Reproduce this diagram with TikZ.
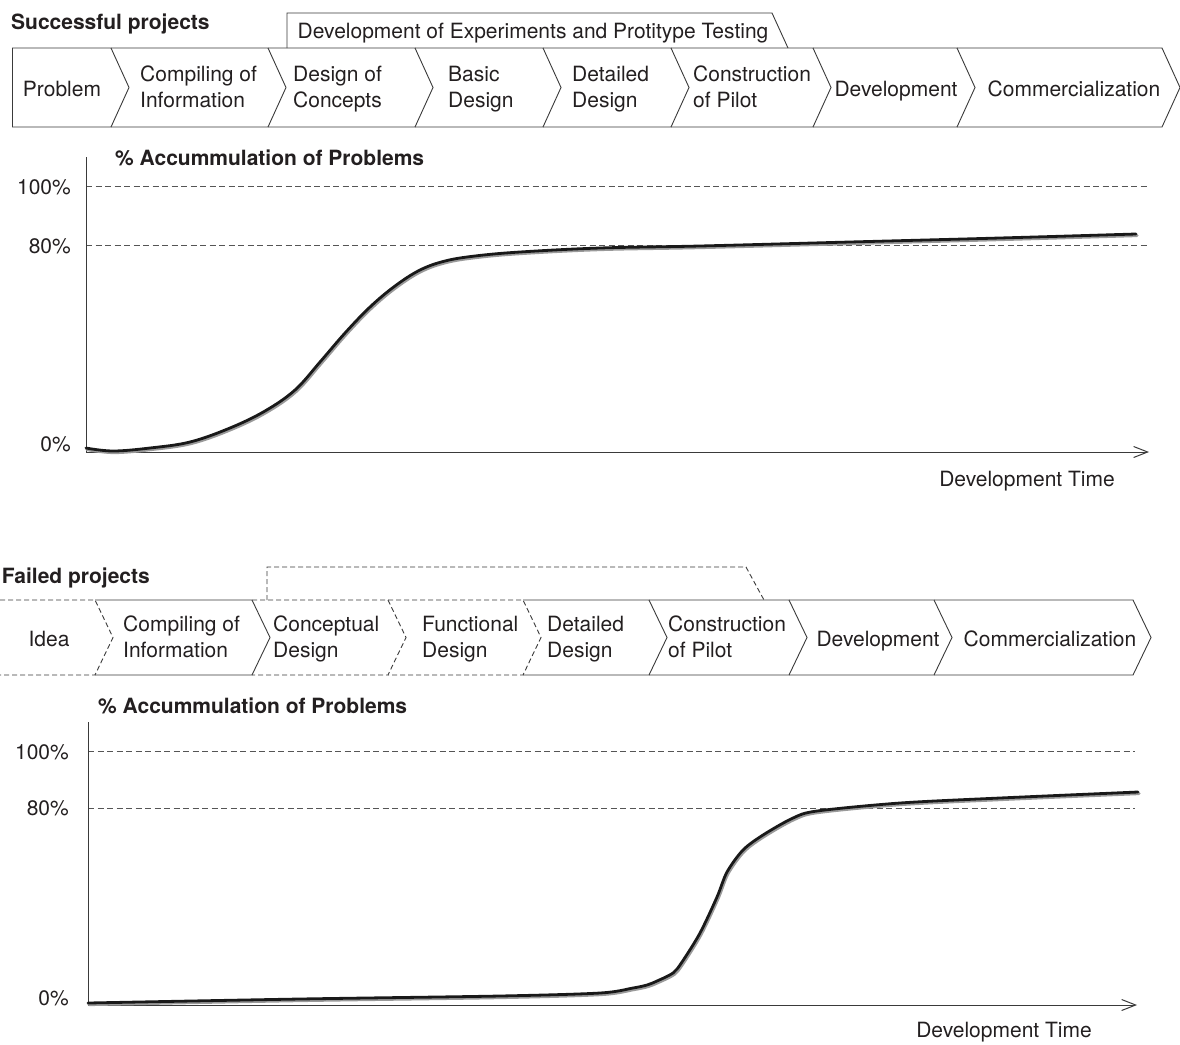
\documentclass[tikz,border=0pt]{standalone}
\usepackage{fontspec}
\setmainfont{TeX Gyre Heros}
\usepackage{tikz}
\usetikzlibrary{arrows.meta}
\definecolor{inkgray}{HTML}{231F20}
\definecolor{edgegray}{HTML}{3A3A3A}
\definecolor{gridgray}{HTML}{555555}
\definecolor{shadegray}{HTML}{9A9A9A}
\tikzset{
  phasetext/.style={inner sep=0pt, text=inkgray, align=left,
    font=\fontsize{21}{26}\selectfont,
    execute at begin node=\strut, execute at end node=\strut},
  headtext/.style={phasetext, font=\fontsize{21}{26}\selectfont\bfseries},
  phaseline/.style={draw=edgegray, line width=0.9pt},
  phasedash/.style={phaseline, dash pattern=on 5pt off 3pt},
  guide/.style={draw=gridgray, line width=0.8pt, dash pattern=on 6pt off 3.5pt},
  axisline/.style={draw=edgegray, line width=1pt},
  curveshade/.style={draw=shadegray, line width=3.2pt, line cap=round},
  curveline/.style={draw=black!90, line width=2.8pt, line cap=round}
}
\begin{document}
\begin{tikzpicture}[x=1pt,y=-1pt]
\useasboundingbox (0,0) rectangle (1180,1044);
\pgfmathsetmacro{\tip}{18}

% successful projects
\node[headtext, anchor=west] (succ) at (11,23.8) {Successful projects};
\draw[phaseline] (287,48) -- (287,13) -- (772,13) -- (788,48);
\node[phasetext] (testtop) at (533,32.8) {Development of Experiments and Protitype Testing};
\draw[phaseline] (12,48) -- (12,127);
\foreach \a/\b in {12/111,111/268,268/415,415/543,543/671,671/813,813/957,957/1162}
  \draw[phaseline] (\a,48) -- (\b,48) -- ({\b+\tip},87.5) -- (\b,127) -- (\a,127);
\node[phasetext] (s1) at (62,91) {Problem};
\node[phasetext, anchor=west] (s2) at (140,91) {Compiling of\\Information};
\node[phasetext, anchor=west] (s3) at (293,91) {Design of\\Concepts};
\node[phasetext, anchor=west] (s4) at (448,91) {Basic\\Design};
\node[phasetext, anchor=west] (s5) at (572,91) {Detailed\\Design};
\node[phasetext, anchor=west] (s6) at (693,91) {Construction\\of Pilot};
\node[phasetext] (s7) at (896,91) {Development};
\node[phasetext] (s8) at (1074,91) {Commercialization};

% chart of successful projects
\node[headtext, anchor=west] (head1) at (115,159.8) {\% Accummulation of Problems};
\coordinate (top1) at (86,157);
\coordinate (org1) at (86,452);
\coordinate (end1) at (1149,452);
\draw[guide] (86,186) -- (1147,186);
\draw[guide] (86,245) -- (1147,245);
\draw[axisline, -{Straight Barb[length=14pt,width=11pt]}] (top1) -- (org1) -- (end1);
\node[phasetext, anchor=east] (hundred1) at (71,188.8) {100\%};
\node[phasetext, anchor=east] (eighty1) at (71,247.8) {80\%};
\node[phasetext, anchor=east] (zero1) at (71,445.8) {0\%};
\node[phasetext] (time1) at (1027,481.5) {Development Time};
\draw[curveshade, shift={(1,1.5)}] plot[smooth, tension=0.6] coordinates {
    (86,448) (113,451) (150,448) (190,442) (230,428) (265,411) (295,390)
    (320,362) (345,333) (370,307) (395,286) (420,270) (445,261) (475,256)
    (520,252) (600,248) (700,246) (850,242) (1000,238) (1136,234)};
\draw[curveline] plot[smooth, tension=0.6] coordinates {
    (86,448) (113,451) (150,448) (190,442) (230,428) (265,411) (295,390)
    (320,362) (345,333) (370,307) (395,286) (420,270) (445,261) (475,256)
    (520,252) (600,248) (700,246) (850,242) (1000,238) (1136,234)};

% failed projects
\node[headtext, anchor=east] (fail) at (150,577.8) {Failed projects};
\draw[phasedash] (267,600) -- (267,567) -- (746,567) -- (764,600);
\foreach \a/\b/\s in {0/95/phasedash,95/252/phaseline,252/388/phasedash,388/523/phasedash,
    523/649/phaseline,649/789/phaseline,789/934/phaseline,934/1133/phaseline}
  \draw[\s] (\a,600) -- (\b,600) -- ({\b+\tip},637.5) -- (\b,675) -- (\a,675);
\node[phasetext] (f1) at (49,641) {Idea};
\node[phasetext, anchor=west] (f2) at (123,641) {Compiling of\\Information};
\node[phasetext, anchor=west] (f3) at (273,641) {Conceptual\\Design};
\node[phasetext, anchor=west] (f4) at (422,641) {Functional\\Design};
\node[phasetext, anchor=west] (f5) at (547,641) {Detailed\\Design};
\node[phasetext, anchor=west] (f6) at (668,641) {Construction\\of Pilot};
\node[phasetext] (f7) at (878,641) {Development};
\node[phasetext] (f8) at (1050,641) {Commercialization};

% chart of failed projects
\node[headtext, anchor=west] (head2) at (98,707.8) {\% Accummulation of Problems};
\coordinate (top2) at (88,722);
\coordinate (org2) at (88,1005);
\coordinate (end2) at (1137,1005);
\draw[guide] (88,751) -- (1135,751);
\draw[guide] (88,808) -- (1135,808);
\draw[axisline, -{Straight Barb[length=14pt,width=11pt]}] (top2) -- (org2) -- (end2);
\node[phasetext, anchor=east] (hundred2) at (69,753.8) {100\%};
\node[phasetext, anchor=east] (eighty2) at (69,810.5) {80\%};
\node[phasetext, anchor=east] (zero2) at (69,999.8) {0\%};
\node[phasetext] (time2) at (1004,1032) {Development Time};
\draw[curveshade, shift={(1,1.5)}] plot[smooth, tension=0.5] coordinates {
    (88,1003) (300,999) (500,996) (600,993) (633,988) (647,985) (657,981)
    (673,973) (682,962) (700,933) (717,897) (727,872) (743,850) (763,835)
    (793,818) (817,811) (900,803) (1000,798) (1138,792)};
\draw[curveline] plot[smooth, tension=0.5] coordinates {
    (88,1003) (300,999) (500,996) (600,993) (633,988) (647,985) (657,981)
    (673,973) (682,962) (700,933) (717,897) (727,872) (743,850) (763,835)
    (793,818) (817,811) (900,803) (1000,798) (1138,792)};
\end{tikzpicture}
\end{document}
